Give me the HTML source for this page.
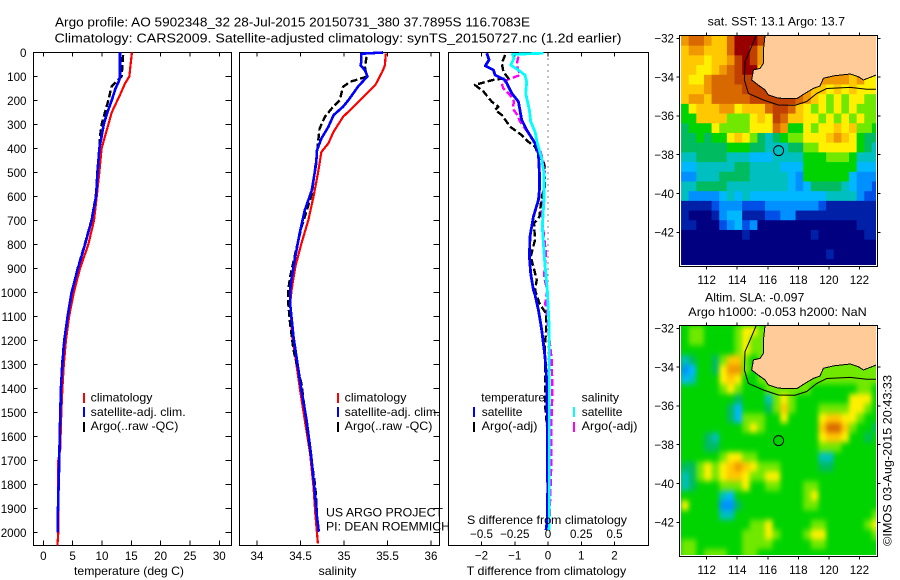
<!DOCTYPE html>
<html lang="en">
<head>
<meta charset="utf-8">
<title>Argo profile 5902348_32</title>
<style>
html,body{margin:0;padding:0;background:#fff;}
svg{display:block;}
text{font-family:"Liberation Sans",sans-serif;font-size:12px;fill:#000;}
.frame{fill:none;stroke:#000;stroke-width:1;shape-rendering:crispEdges;}
.bar{shape-rendering:crispEdges;}
</style>
</head>
<body>
<svg id="chart" xmlns="http://www.w3.org/2000/svg" width="900" height="580" viewBox="0 0 900 580">
  <rect x="0" y="0" width="900" height="580" fill="#fff"/>
  <text x="55" y="26.5" font-size="13" style="font-size:13px" textLength="475" lengthAdjust="spacingAndGlyphs">Argo profile: AO 5902348_32 28-Jul-2015 20150731_380 37.7895S 116.7083E</text>
  <text x="54.5" y="42.5" style="font-size:13px" textLength="567" lengthAdjust="spacingAndGlyphs">Climatology: CARS2009. Satellite-adjusted climatology: synTS_20150727.nc (1.2d earlier)</text>

  <g id="g-temp"></g>
  <g id="g-sal"></g>
  <g id="g-diff"></g>

  <text x="74" y="575" textLength="110" lengthAdjust="spacingAndGlyphs">temperature (deg C)</text>
  <text x="318.5" y="575" textLength="38" lengthAdjust="spacingAndGlyphs">salinity</text>
  <text x="466.7" y="575" textLength="159.5" lengthAdjust="spacingAndGlyphs">T difference from climatology</text>
  <text x="467" y="524" textLength="160" lengthAdjust="spacingAndGlyphs">S difference from climatology</text>

  <g>
    <rect class="bar" x="83" y="393" width="2" height="10" fill="#f00"/>
    <rect class="bar" x="83" y="407" width="2" height="10" fill="#00f"/>
    <rect class="bar" x="83" y="422" width="2" height="10" fill="#000"/>
    <text x="90.7" y="401.7" textLength="61.7" lengthAdjust="spacingAndGlyphs">climatology</text>
    <text x="90.7" y="416" textLength="95" lengthAdjust="spacingAndGlyphs">satellite-adj. clim.</text>
    <text x="90.7" y="430" textLength="87.7" lengthAdjust="spacingAndGlyphs">Argo(..raw -QC)</text>
  </g>
  <g>
    <rect class="bar" x="337" y="393" width="2" height="10" fill="#f00"/>
    <rect class="bar" x="337" y="407" width="2" height="10" fill="#00f"/>
    <rect class="bar" x="337" y="422" width="2" height="10" fill="#000"/>
    <text x="344.7" y="401.7" textLength="61.7" lengthAdjust="spacingAndGlyphs">climatology</text>
    <text x="344.7" y="416" textLength="95" lengthAdjust="spacingAndGlyphs">satellite-adj. clim.</text>
    <text x="344.7" y="430" textLength="87.7" lengthAdjust="spacingAndGlyphs">Argo(..raw -QC)</text>
  </g>
  <g>
    <text x="326" y="516.7" textLength="117" lengthAdjust="spacingAndGlyphs">US ARGO PROJECT</text>
    <text x="326" y="530.6" textLength="124" lengthAdjust="spacingAndGlyphs">PI: DEAN ROEMMICH</text>
  </g>
  <g id="g-diff-legend">
    <text x="481.3" y="401.7" textLength="63.7" lengthAdjust="spacingAndGlyphs">temperature</text>
    <rect class="bar" x="473" y="407" width="2" height="10" fill="#00f"/>
    <text x="481.7" y="416" textLength="40.7" lengthAdjust="spacingAndGlyphs">satellite</text>
    <rect class="bar" x="473" y="422" width="2" height="10" fill="#000"/>
    <text x="481.7" y="430" textLength="55.7" lengthAdjust="spacingAndGlyphs">Argo(-adj)</text>
    <text x="581.7" y="401.7" textLength="37.3" lengthAdjust="spacingAndGlyphs">salinity</text>
    <rect class="bar" x="573" y="407" width="2" height="10" fill="#0ff"/>
    <text x="581.7" y="416" textLength="40.7" lengthAdjust="spacingAndGlyphs">satellite</text>
    <rect class="bar" x="573" y="422" width="2" height="10" fill="#f0f"/>
    <text x="581.7" y="430" textLength="55.7" lengthAdjust="spacingAndGlyphs">Argo(-adj)</text>
  </g>

  <defs>
    <clipPath id="clip-sst"><rect x="681" y="36" width="195" height="229"/></clipPath>
    <clipPath id="clip-sla"><rect x="681" y="326" width="195" height="229"/></clipPath>
    <filter id="soft" x="-10%" y="-10%" width="120%" height="120%" color-interpolation-filters="sRGB"><feGaussianBlur stdDeviation="2.4 3"/></filter>
  </defs>

  <g id="g-map-sst"></g>
  <g id="g-map-sla"></g>

  <text x="707.7" y="25.5" textLength="137.3" lengthAdjust="spacingAndGlyphs">sat. SST: 13.1 Argo: 13.7</text>
  <text x="705" y="301.7" textLength="99.3" lengthAdjust="spacingAndGlyphs">Altim. SLA: -0.097</text>
  <text x="688.3" y="316" textLength="178.4" lengthAdjust="spacingAndGlyphs">Argo h1000: -0.053 h2000: NaN</text>
  <text transform="translate(891.5 546) rotate(-90)" textLength="171" lengthAdjust="spacingAndGlyphs">©IMOS 03-Aug-2015 20:43:33</text>
</svg>

<script>
// ---- tick labels ----
const depthTicks = [0,100,200,300,400,500,600,700,800,900,1000,1100,1200,1300,1400,1500,1600,1700,1800,1900,2000];
const tempTicks = [0,5,10,15,20,25,30];
const salTicks = [34,34.5,35,35.5,36];
const tDiffTicks = [-2,-1,0,1,2];
const sDiffTicks = [-0.5,-0.25,0,0.25,0.5];
const lonTicks = [112,114,116,118,120,122];
const latTicks = [-32,-34,-36,-38,-40,-42];

// ---- temperature profiles ----
const tempClimDepth = [0,100,130,170,250,300,350,400,500,600,700,800,900,1000,1100,1200,1300,1400,1500,1600,1650,1700,2000,2054];
const tempClimValue = [15.1,14.66,13.9,13.2,11.65,11.1,10.5,9.94,9.55,9.1,8.64,7.67,6.25,5.2,4.4,3.86,3.5,3.25,3.07,2.95,2.9,2.55,2.55,2.4];
const tempSatDepth = [0,100,115,150,200,250,300,350,400,500,600,700,800,900,1000,1100,1200,1300,1400,1500,1600,1700,1800,1900,2000];
const tempSatValue = [13.07,13.07,12.95,12.3,11.65,10.9,10.3,9.94,9.55,9.26,8.98,8.24,7.1,5.9,4.83,4.15,3.58,3.24,3.0,2.9,2.8,2.73,2.6,2.5,2.44];
const tempArgoDepth = [10,50,100,120,140,200,250,300,350,400,500,600,700,800,900,1000,1100,1200,1300,1400,1600,1800,2000];
const tempArgoValue = [13.6,13.5,13.35,12.5,11.65,11.08,10.5,9.94,9.66,9.55,9.2,8.95,8.2,7.05,5.85,4.83,4.15,3.55,3.2,3.0,2.8,2.6,2.44];

// ---- salinity profiles ----
const salClimDepth = [4,53,80,136,178,226,268,330,379,414,504,601,699,796,893,983,1046,1171,1268,1393,1532,1671,1810,1921,2046];
const salClimValue = [35.48,35.47,35.44,35.36,35.24,35.11,34.99,34.88,34.82,34.74,34.70,34.65,34.59,34.51,34.44,34.40,34.38,34.40,34.44,34.49,34.55,34.61,34.65,34.67,34.70];
const salSatDepth = [0,5,39,53,74,99,143,199,226,261,310,358,407,462,574,657,754,851,935,990,1046,1185,1283,1407,1532,1671,1810,1935,1997];
const salSatValue = [35.45,35.2,35.2,35.19,35.24,35.27,35.16,35.05,34.99,34.88,34.82,34.74,34.69,34.68,34.63,34.55,34.49,34.44,34.40,34.38,34.38,34.42,34.46,34.51,34.57,34.62,34.66,34.69,34.71];
const salArgoDepth = [18,60,101,122,143,199,233,268,317,379,421,590,729,837,935,990,1046,1129,1240,1324,1379,1490,1657,1810,1921];
const salArgoValue = [35.26,35.24,35.26,35.07,34.99,34.95,34.86,34.78,34.72,34.70,34.69,34.63,34.51,34.44,34.38,34.36,34.36,34.38,34.42,34.475,34.51,34.55,34.61,34.67,34.69];

// ---- difference profiles ----
const dTempSatDepth = [3,31,56,73,94,115,128,170,205,281,323,378,420,503,573,615,684,767,851,920,990,1010,1073,1156,1267,1365,1545,1823,1948,1990];
const dTempSatValue = [-1.84,-1.77,-1.89,-1.64,-1.59,-1.29,-1.24,-1.09,-0.89,-0.79,-0.64,-0.39,-0.29,-0.26,-0.26,-0.29,-0.44,-0.54,-0.56,-0.52,-0.44,-0.39,-0.29,-0.19,-0.09,-0.04,-0.02,-0.01,-0.02,-0.06];
const dTempArgoDepth = [10,45,80,108,112,135,163,205,226,240,260,309,344,372,392,427,462,559,601,684,712,781,851,892,948,990,1045,1087,1163,1212,1351,1480,1572,1961];
const dTempArgoValue = [-1.29,-1.39,-1.34,-1.19,-1.59,-2.2,-1.94,-1.69,-1.49,-1.59,-1.39,-1.14,-0.79,-0.59,-0.39,-0.29,-0.12,-0.09,-0.19,-0.26,-0.42,-0.39,-0.52,-0.44,-0.34,-0.39,-0.26,-0.06,-0.06,-0.09,-0.09,-0.08,-0.02,-0.01];
const dSalSatDepth = [3,8,24,52,73,94,122,170,240,288,330,378,441,503,615,726,851,990,1156,1267,1545,1990];
const dSalSatValue = [-0.035,-0.266,-0.256,-0.28,-0.223,-0.173,-0.16,-0.168,-0.14,-0.13,-0.098,-0.08,-0.048,-0.03,-0.03,-0.043,-0.028,-0.005,0.01,0.01,0.01,0.01];
const dSalArgoDepth = [17,52,94,112,128,149,177,205,233,260,288,323,365,406,476,545,670,767,837,934,990,1045,1156,1281,1406,1587,1740,1878,1961];
const dSalArgoValue = [-0.223,-0.236,-0.21,-0.30,-0.348,-0.336,-0.286,-0.256,-0.266,-0.231,-0.21,-0.165,-0.11,-0.06,-0.023,-0.03,-0.048,-0.03,-0.015,-0.03,-0.005,-0.02,0.003,0.028,0.033,0.023,0.023,0.015,0.015];

// ---- map coastline / shelf contour (lon, lat) ----
const coastLon = [115.82,115.71,115.71,115.49,115.06,114.95,115.38,115.82,116.04,116.69,117.9,118.44,118.99,119.42,119.64,120.3,121.39,121.93,122.26,123.1];
const coastLat = [-31.88,-32.6,-33.29,-33.55,-33.63,-34.15,-34.41,-34.66,-34.92,-35.09,-35.11,-34.84,-34.58,-34.46,-34.06,-33.94,-33.84,-33.98,-34.15,-33.89];
const shelfLon = [115.23,114.84,114.51,114.47,114.73,115.71,116.69,117.79,118.55,119.21,119.86,121.39,122.48,123.18];
const shelfLat = [-31.88,-32.6,-33.2,-34.15,-34.84,-35.18,-35.44,-35.45,-35.26,-34.84,-34.59,-34.53,-34.63,-34.63];
const floatLon = 116.7083;
const floatLat = -37.7895;

// ---- colour classes, low to high ----
const colorClasses = ['#000080','#0020a8','#0050e8','#0090ff','#00b8ff','#00bfc0','#00bb60','#00d400','#70e800','#fff000','#ffc800','#f09800','#d86800','#c04000','#980000'];

// ---- SST colour class per half-degree cell, row = latitude, column = longitude ----
const sstGrid = [
[11,12,12,11,10,10,12,14,14,14,13,11,11,11,11,11,11,11,11,11,11,11,11,11,11,11],
[10,11,11,10,10,10,12,14,14,13,11,11,11,11,11,11,11,11,11,11,11,11,11,11,11,11],
[10,10,10,9,10,10,11,13,14,13,11,10,11,11,11,11,11,11,11,11,11,11,11,11,11,11],
[10,10,9,9,10,11,12,13,14,14,10,9,11,11,11,11,11,11,11,11,11,11,11,11,11,11],
[10,9,9,11,12,12,12,13,13,13,13,12,12,11,11,11,11,11,11,11,11,11,10,11,9,9],
[10,10,10,11,12,12,12,12,13,13,13,13,13,13,12,12,11,10,10,9,10,9,10,9,9,9],
[10,11,11,10,12,12,12,12,12,13,13,13,13,13,13,12,11,10,9,8,9,8,9,9,8,8],
[7,9,10,10,10,11,11,9,10,10,10,12,13,13,12,10,9,8,9,8,9,8,9,8,8,8],
[7,7,10,10,10,10,8,8,8,9,10,9,13,12,10,10,9,9,8,9,8,9,8,9,8,8],
[6,7,7,7,9,8,8,8,8,9,9,9,12,11,7,7,9,8,9,9,10,9,10,8,8,7],
[6,6,7,6,7,7,9,10,9,8,6,5,6,7,8,8,9,9,9,10,11,10,9,7,6,6],
[6,6,6,6,6,6,7,7,7,6,6,5,5,5,6,6,8,8,9,9,9,9,9,7,6,5],
[5,5,6,6,6,6,5,5,5,4,4,4,5,5,5,5,7,7,7,8,8,8,7,5,5,5],
[4,4,5,5,5,5,5,6,6,5,5,5,5,4,4,4,7,7,7,7,7,7,7,4,4,4],
[3,3,5,5,5,6,6,6,6,5,5,5,5,5,4,3,7,7,7,7,7,7,4,3,3,3],
[5,5,6,6,6,6,5,5,5,5,5,5,5,5,4,3,4,6,6,6,6,5,4,3,3,2],
[5,3,3,3,3,4,5,4,5,4,4,4,4,4,4,4,4,4,4,5,5,5,5,3,2,2],
[1,1,1,1,2,3,3,3,2,2,2,3,3,3,3,3,3,3,2,1,1,1,1,1,1,1],
[1,0,0,0,1,3,4,4,1,1,1,2,2,3,3,1,1,1,1,1,1,1,1,1,1,1],
[1,1,0,0,0,2,3,4,2,3,0,0,0,0,0,0,0,0,0,0,0,0,0,1,1,1],
[0,0,0,0,0,0,0,0,1,0,0,0,0,0,0,0,0,1,0,0,0,0,0,0,1,1],
[0,0,0,0,0,0,0,0,0,0,0,0,0,0,0,0,0,0,0,0,0,0,0,0,0,0],
[0,0,0,0,0,0,0,0,0,0,0,0,0,0,0,0,0,0,0,1,0,0,0,0,0,0],
[0,0,0,0,0,0,0,0,0,0,0,0,0,0,0,0,0,0,0,0,0,0,0,0,0,0]
];

// ---- SLA colour class per half-degree cell ----
const slaGrid = [
[7,8,8,7,7,7,7,8,9,9,8,8,8,8,8,8,8,8,8,8,8,8,8,8,8,8],
[7,8,8,7,7,7,7,8,9,8,8,8,8,8,8,8,8,8,8,8,8,8,8,8,8,8],
[7,7,7,7,7,7,7,8,9,8,8,8,8,8,8,8,8,8,8,8,8,8,8,8,8,8],
[5,6,7,7,6,8,10,10,8,7,8,8,8,8,8,8,8,8,8,8,8,8,8,8,8,8],
[3,4,7,7,6,9,11,11,8,7,8,8,8,8,8,8,8,8,8,8,8,8,8,8,8,8],
[4,5,7,7,7,9,10,9,7,7,8,8,8,8,8,8,8,8,8,8,8,8,8,8,8,8],
[7,7,7,7,7,8,9,8,7,7,7,8,8,8,8,8,8,7,7,7,7,7,7,8,8,7],
[7,7,7,7,7,7,7,6,7,7,7,5,8,9,8,7,7,7,7,7,7,7,9,9,9,7],
[7,7,7,7,7,7,6,4,7,7,7,6,8,10,8,7,7,7,8,8,8,8,9,9,8,7],
[7,7,7,7,7,7,6,4,8,8,8,7,7,9,7,7,7,7,9,10,10,9,9,8,7,7],
[7,7,7,7,7,7,7,7,8,9,8,7,7,7,7,7,7,7,10,12,12,10,8,7,7,6],
[7,7,7,6,5,7,7,7,7,7,7,7,7,7,7,7,7,7,9,10,10,9,7,7,6,7],
[7,7,7,6,6,7,7,7,7,7,7,7,7,7,7,7,7,7,8,8,8,7,7,7,7,7],
[7,7,7,7,7,8,9,9,8,8,7,7,7,7,7,7,7,7,5,5,7,7,7,7,7,7],
[6,6,8,9,8,9,10,11,10,9,8,8,8,7,7,7,7,7,6,6,7,7,7,7,7,7],
[5,6,8,9,8,9,10,10,9,8,8,9,9,7,7,7,7,7,7,7,7,7,7,7,7,7],
[5,6,7,7,7,8,8,8,9,7,7,8,8,7,7,7,8,8,7,7,7,7,7,7,7,7],
[7,7,7,7,7,5,4,7,7,7,7,7,7,7,7,7,8,9,7,7,7,7,7,7,7,7],
[9,7,7,7,7,3,3,6,7,7,7,7,7,7,7,7,8,8,7,7,7,7,7,7,7,7],
[7,7,7,7,7,5,5,7,7,7,7,7,7,7,7,7,7,7,7,7,7,7,7,7,7,8],
[7,7,7,7,7,7,7,7,7,8,8,9,7,7,7,7,7,8,8,7,7,7,7,7,8,9],
[7,7,7,7,7,7,7,7,8,8,8,9,8,7,7,7,8,9,9,7,7,7,7,7,7,8],
[8,8,7,7,7,7,7,7,8,8,8,8,7,7,7,7,7,8,8,7,7,7,7,7,7,7],
[8,8,7,8,8,8,7,7,8,8,7,7,7,7,7,7,7,7,7,7,7,7,7,7,7,7]
];

// ---- axis functions ----
function yDepth(d){ return 52.5 + 0.24*d; }
function xTemp(v){ return 43.3 + 5.867*v; }
function xSal(v){ return 257 + 87*(v-34); }
function xTDiff(v){ return 548 + 33.25*v; }
function xSDiff(v){ return 548 + 133*v; }
function xLon(v){ return 706.7 + 15.27*(v-112); }
function yLat(v,off){ return off + 38.3 + 19.4*(-32-v); }

const NS = 'http://www.w3.org/2000/svg';
function mk(tag, attrs, parent){
  const el = document.createElementNS(NS, tag);
  for (const k in attrs) el.setAttribute(k, attrs[k]);
  parent.appendChild(el);
  return el;
}
function line(parent,x1,y1,x2,y2){
  const el = mk('line',{x1:x1,y1:y1,x2:x2,y2:y2,stroke:'#000','stroke-width':1,'shape-rendering':'crispEdges'},parent);
  
  
}
function label(parent,x,y,str,anchor){
  const el = mk('text',{x:x,y:y,'text-anchor':anchor},parent);
  el.style.fontSize = '11.6px';
  el.textContent = str.replace('-','\u2212');
  
  
}
function frame(parent,x,y,w,h){
  const el = mk('rect',{x:x,y:y,width:w,height:h,'class':'frame'},parent);
  
  
}
function profile(parent,name,depths,values,xf,color,width,dash){
  const pts = depths.map(function(d,i){ return xf(values[i]).toFixed(1)+','+yDepth(d).toFixed(1); }).join(' ');
  const el = mk('polyline',{points:pts,fill:'none',stroke:color,'stroke-width':width,'shape-rendering':'crispEdges','stroke-linejoin':'round'},parent);
  if (dash) el.setAttribute('stroke-dasharray',dash);
  
  
}

const TOP = 52.5, BOTTOM = 545.5;

// ---- temperature panel ----
const gT = document.getElementById('g-temp');
frame(gT,33.5,TOP,198,BOTTOM-TOP);
depthTicks.forEach(function(d){
  const y = yDepth(d);
  if (d>0){ line(gT,33.5,y,37.5,y); line(gT,225.5,y,231.5,y); }
  label(gT,26.5,y+4.3,String(d),'end');
});
tempTicks.forEach(function(v){
  const x = xTemp(v);
  line(gT,x,TOP,x,TOP+4); line(gT,x,BOTTOM-5,x,BOTTOM);
  label(gT,x,560,String(v),'middle');
});
profile(gT,'temperature-climatology-line',tempClimDepth,tempClimValue,xTemp,'#f00',2.2);
profile(gT,'temperature-argo-line',tempArgoDepth,tempArgoValue,xTemp,'#000',2.4,'7 3');
profile(gT,'temperature-satellite-line',tempSatDepth,tempSatValue,xTemp,'#00f',2.6);

// ---- salinity panel ----
const gS = document.getElementById('g-sal');
frame(gS,239.5,TOP,200,BOTTOM-TOP);
depthTicks.forEach(function(d){
  if (d>0){ const y = yDepth(d); line(gS,433.5,y,439.5,y); }
});
salTicks.forEach(function(v){
  const x = xSal(v);
  line(gS,x,TOP,x,TOP+4); line(gS,x,BOTTOM-5,x,BOTTOM);
  label(gS,x,560,String(v),'middle');
});
profile(gS,'salinity-climatology-line',salClimDepth,salClimValue,xSal,'#f00',2.2);
profile(gS,'salinity-argo-line',salArgoDepth,salArgoValue,xSal,'#000',2.4,'7 3');
profile(gS,'salinity-satellite-line',salSatDepth,salSatValue,xSal,'#00f',2.6);

// ---- difference panel ----
const gD = document.getElementById('g-diff');
frame(gD,448.5,TOP,200,BOTTOM-TOP);
tDiffTicks.forEach(function(v){
  const x = xTDiff(v);
  line(gD,x,TOP,x,TOP+4); line(gD,x,BOTTOM-4,x,BOTTOM);
  label(gD,x,559.5,String(v),'middle');
});
sDiffTicks.forEach(function(v){
  label(gD,xSDiff(v),538,String(v),'middle');
});
const zero = mk('line',{x1:xTDiff(0),y1:TOP,x2:xTDiff(0),y2:yDepth(2000),stroke:'#000','stroke-width':1,'stroke-dasharray':'1 5','shape-rendering':'crispEdges'},gD);


profile(gD,'s-difference-argo-line',dSalArgoDepth,dSalArgoValue,xSDiff,'#f0f',2.4,'7 3');
profile(gD,'t-difference-argo-line',dTempArgoDepth,dTempArgoValue,xTDiff,'#000',2.4,'7 3');
profile(gD,'t-difference-satellite-line',dTempSatDepth,dTempSatValue,xTDiff,'#00f',2.8);
profile(gD,'s-difference-satellite-line',dSalSatDepth,dSalSatValue,xSDiff,'#0ff',2.8);

// ---- maps ----
function drawMap(gid,clipId,off,grid,cellName,smooth){
  const g = document.getElementById(gid);
  const clipped = mk('g',{'clip-path':'url(#'+clipId+')'},g);
  
  
  if (smooth){
    const base = mk('rect',{x:675,y:off+30,width:210,height:245,fill:colorClasses[7]},clipped);
    
    
  }
  const cells = mk('g',smooth?{filter:'url(#soft)'}:{},clipped);
  
  
  const lon0 = 110.32, lat0 = -31.88, step = 0.5;
  grid.forEach(function(row,r){
    row.forEach(function(level,c){
      const x = xLon(lon0+c*step), y = yLat(lat0-r*step,off);
      const w = xLon(lon0+(c+1)*step)-x, h = yLat(lat0-(r+1)*step,off)-y;
      const cell = mk('rect',{x:x.toFixed(2),y:y.toFixed(2),width:(w+0.4).toFixed(2),height:(h+0.4).toFixed(2),fill:colorClasses[level]},cells);
      
      
    });
  });
  // land
  const landPts = coastLon.map(function(v,i){ return xLon(v).toFixed(1)+','+yLat(coastLat[i],off).toFixed(1); });
  landPts.push(xLon(123.3).toFixed(1)+','+yLat(-33.89,off).toFixed(1));
  landPts.push(xLon(123.3).toFixed(1)+','+yLat(-31.7,off).toFixed(1));
  landPts.push(xLon(115.82).toFixed(1)+','+yLat(-31.7,off).toFixed(1));
  const land = mk('polygon',{points:landPts.join(' '),fill:'#ffcc99'},clipped);
  
  
  const coast = mk('polyline',{points:coastLon.map(function(v,i){ return xLon(v).toFixed(1)+','+yLat(coastLat[i],off).toFixed(1); }).join(' '),fill:'none',stroke:'#000','stroke-width':1,'shape-rendering':'crispEdges'},clipped);
  
  
  const shelf = mk('polyline',{points:shelfLon.map(function(v,i){ return xLon(v).toFixed(1)+','+yLat(shelfLat[i],off).toFixed(1); }).join(' '),fill:'none',stroke:'#000','stroke-width':1},clipped);
  
  
  const dot = mk('circle',{cx:xLon(floatLon).toFixed(1),cy:yLat(floatLat,off).toFixed(1),r:5,fill:'none',stroke:'#000','stroke-width':1},g);
  
  
  const left = 679.5, right = 877.5, top = off+35.5, bottom = off+266.5;
  frame(g,left,top,right-left,bottom-top);
  lonTicks.forEach(function(v){
    const x = xLon(v);
    line(g,x,top-3,x,top); line(g,x,bottom,x,bottom+3);
    label(g,x,off+284,String(v),'middle');
  });
  latTicks.forEach(function(v){
    const y = yLat(v,off);
    line(g,left-3,y,left,y); line(g,right,y,right+3,y);
    label(g,674,y+4.3,String(v),'end');
  });
}
drawMap('g-map-sst','clip-sst',0,sstGrid,'sst-cell',false);
drawMap('g-map-sla','clip-sla',290,slaGrid,'sla-cell',true);
</script>
</body>
</html>
